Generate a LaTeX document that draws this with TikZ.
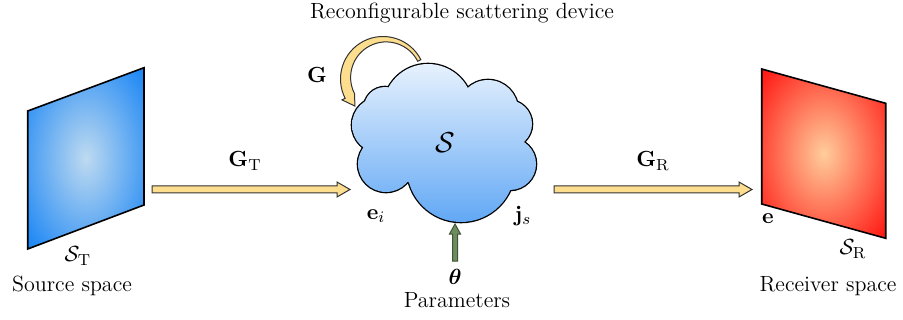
\documentclass[tikz,border=0pt]{standalone}
\usepackage{amsmath}
\usetikzlibrary{calc}
\definecolor{arrowfill}{RGB}{253,222,142}
\definecolor{blueedge}{RGB}{10,125,245}
\definecolor{bluecenter}{RGB}{190,218,240}
\definecolor{rededge}{RGB}{255,5,5}
\definecolor{redcenter}{RGB}{255,205,155}
\definecolor{cloudtop}{RGB}{230,241,253}
\definecolor{cloudbot}{RGB}{98,168,245}
\definecolor{thetafill}{RGB}{110,140,95}
\definecolor{thetaedge}{RGB}{60,85,50}
\pgfdeclareradialshading{blueplate}{\pgfpoint{0bp}{0bp}}{color(0bp)=(bluecenter); color(38bp)=(blueedge); color(50bp)=(blueedge)}
\pgfdeclareradialshading{redplate}{\pgfpoint{0bp}{0bp}}{color(0bp)=(redcenter); color(38bp)=(rededge); color(50bp)=(rededge)}
\newcommand{\hfat}[2]{%
  \draw[fat] ($(#1)+(0,-3.5)$) -- ($(#2)+(-13,-3.5)$) -- ($(#2)+(-13,-7.5)$) -- (#2)
    -- ($(#2)+(-13,7.5)$) -- ($(#2)+(-13,3.5)$) -- ($(#1)+(0,3.5)$) -- cycle;}
\newcommand{\cloudpuffs}{%
  (428,109) circle[radius=45]
  (488,110) circle[radius=30]
  (508,124) circle[radius=24]
  (510,164) circle[radius=26]
  (461,168) circle[radius=54]
  (386,164) circle[radius=28]
  (380,125) circle[radius=28]
  (385,108) circle[radius=21]}
\begin{document}
\begin{tikzpicture}[x=0.5pt,y=-0.5pt,
  every node/.style={font=\fontsize{11}{13}\selectfont, inner sep=0pt},
  fat/.style={draw=black!80, line width=0.5pt, fill=arrowfill, line join=miter},
  plate/.style={draw=black, line width=0.8pt}]
\useasboundingbox (0,0) rectangle (903,320);

% source plate
\shade[plate, shading=blueplate]
  (27.7,111) coordinate (st1) -- (144,67.7) coordinate (st2) -- (144,205) coordinate (st3) -- (27.7,249) coordinate (st4) -- cycle;
% receiver plate
\shade[plate, shading=redplate]
  (761.7,69) coordinate (sr1) -- (885.7,103.3) coordinate (sr2) -- (885.7,238.3) coordinate (sr3) -- (761.7,204) coordinate (sr4) -- cycle;

% cloud (union of puffs)
\coordinate (dev) at (445,143);
\draw[line width=1.3pt, black] \cloudpuffs;
\shade[top color=cloudtop, bottom color=cloudbot] \cloudpuffs (445,145) ellipse[x radius=65, y radius=45];
\node[font=\fontsize{15}{17}\selectfont] (S) at (dev) {$\mathcal{S}$};

% connectors
\coordinate (gtS) at (152,189.5); \coordinate (gtE) at (350,189.5);
\coordinate (grS) at (554,189.5); \coordinate (grE) at (752,189.5);
\hfat{gtS}{gtE}
\hfat{grS}{grE}

% self loop
\coordinate (gc) at (383,79);
\draw[fat] ($(gc)+(-27:42.5)$) arc[start angle=-27, end angle=-207, radius=42.5]
  -- ($(gc)+(-207:46)$) -- ($(gc)+(-224:39)$) -- ($(gc)+(-207:32)$)
  arc[start angle=-207, end angle=-27, radius=35.5] -- cycle;

% parameter arrow
\coordinate (thS) at (455,261); \coordinate (thE) at (455,224);
\draw[draw=thetaedge, fill=thetafill, line width=0.5pt]
  ($(thS)+(-2.5,0)$) -- ($(thE)+(-2.5,10)$) -- ($(thE)+(-5.5,10)$) -- (thE)
  -- ($(thE)+(5.5,10)$) -- ($(thE)+(2.5,10)$) -- ($(thS)+(2.5,0)$) -- cycle;

% labels
\node (title) at (462,13) {Reconfigurable scattering device};
\node (G) at (317,75) {$\mathbf{G}$};
\node (GT) at (245,161) {$\mathbf{G}_{\mathrm{T}}$};
\node (GR) at (653,161) {$\mathbf{G}_{\mathrm{R}}$};
\node (ei) at (376,216) {$\mathbf{e}_i$};
\node (js) at (523,216) {$\mathbf{j}_s$};
\node (theta) at (455,277) {$\boldsymbol{\theta}$};
\node (par) at (457,300) {Parameters};
\node (ST) at (78,256) {$\mathcal{S}_{\mathrm{T}}$};
\node (src) at (72,286) {Source space};
\node (e) at (768,219) {$\mathbf{e}$};
\node (SR) at (853,249) {$\mathcal{S}_{\mathrm{R}}$};
\node (rcv) at (828,286) {Receiver space};
\end{tikzpicture}
\end{document}
